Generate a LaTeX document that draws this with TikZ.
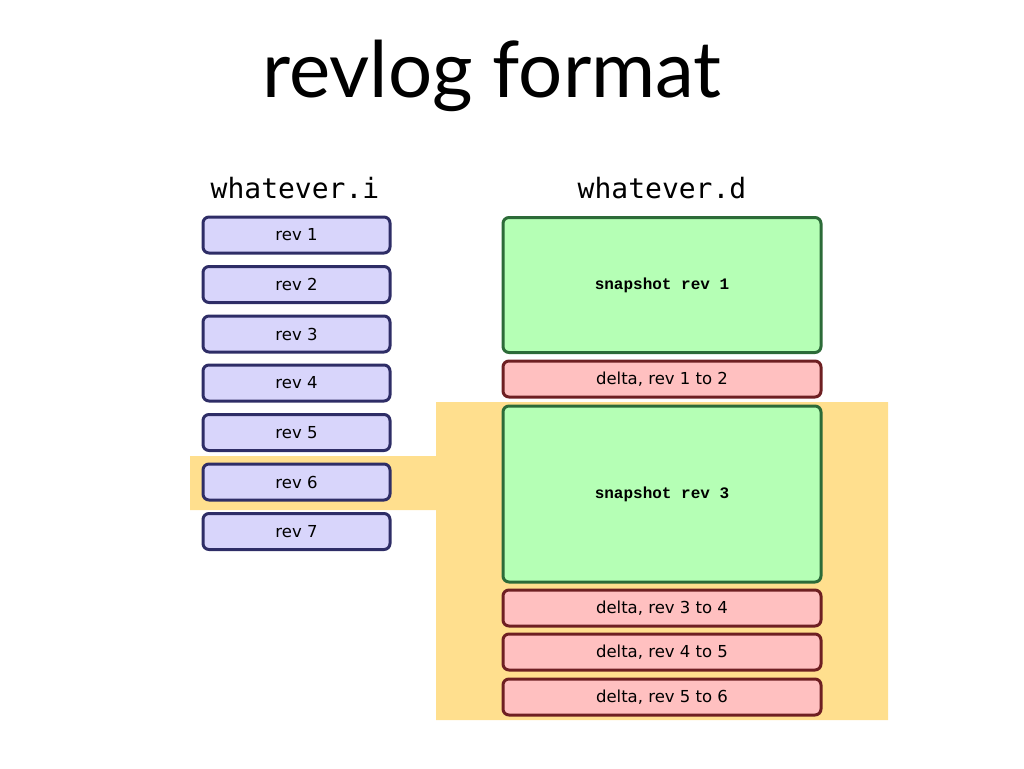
\documentclass[tikz,border=0pt]{standalone}
\usepackage{fontspec}
\setmainfont{DejaVu Sans}
\newfontfamily\titlefont{Lato}
\newfontfamily\headfont{DejaVu Sans Mono}
\newfontfamily\snapfont{Liberation Mono}
\definecolor{hl}{HTML}{FFDF8E}
\definecolor{revfill}{HTML}{D8D5FB}
\definecolor{revline}{HTML}{2E2D66}
\definecolor{snapfill}{HTML}{B5FFB5}
\definecolor{snapline}{HTML}{2C6B38}
\definecolor{delfill}{HTML}{FFC0C0}
\definecolor{delline}{HTML}{6E1F22}
\tikzset{
  revbox/.style={draw=revline, fill=revfill, line width=3pt, rounded corners=6pt,
    minimum width=187pt, minimum height=36pt, inner sep=0pt, font=\fontsize{16.5}{19}\selectfont},
  snapbox/.style={draw=snapline, fill=snapfill, line width=3pt, rounded corners=6pt,
    minimum width=318pt, inner sep=0pt, font=\snapfont\bfseries\fontsize{16}{18}\selectfont},
  delbox/.style={draw=delline, fill=delfill, line width=3pt, rounded corners=6pt,
    minimum width=318pt, minimum height=36pt, inner sep=0pt, font=\fontsize{16.5}{19}\selectfont},
  head/.style={font=\headfont\fontsize{28}{32}\selectfont, inner sep=0pt}
}
\begin{document}
\begin{tikzpicture}[x=1pt,y=-1pt]
\useasboundingbox (0,0) rectangle (1024,768);
\fill[hl] (436,402) -- (888,402) -- (888,720) -- (436,720) -- (436,510) -- (190,510) -- (190,456) -- (436,456) -- cycle;
\node[font=\titlefont\fontsize{78}{82}\selectfont, inner sep=0pt, anchor=base] (title) at (492,97) {revlog format};
\node[head] (hi) at (295,188) {whatever.i};
\node[head] (hd) at (662,188) {whatever.d};
\node[revbox] (r1) at (296.5,235) {rev 1};
\node[revbox] (r2) at (296.5,284.5) {rev 2};
\node[revbox] (r3) at (296.5,334) {rev 3};
\node[revbox] (r4) at (296.5,383) {rev 4};
\node[revbox] (r5) at (296.5,432.5) {rev 5};
\node[revbox] (r6) at (296.5,482) {rev 6};
\node[revbox] (r7) at (296.5,531.5) {rev 7};
\node[snapbox, minimum height=135pt] (s1) at (662,285) {snapshot rev 1};
\node[delbox] (d12) at (662,379) {delta, rev 1 to 2};
\node[snapbox, minimum height=176pt] (s3) at (662,494) {snapshot rev 3};
\node[delbox] (d34) at (662,608) {delta, rev 3 to 4};
\node[delbox] (d45) at (662,652) {delta, rev 4 to 5};
\node[delbox] (d56) at (662,697) {delta, rev 5 to 6};
\end{tikzpicture}
\end{document}
